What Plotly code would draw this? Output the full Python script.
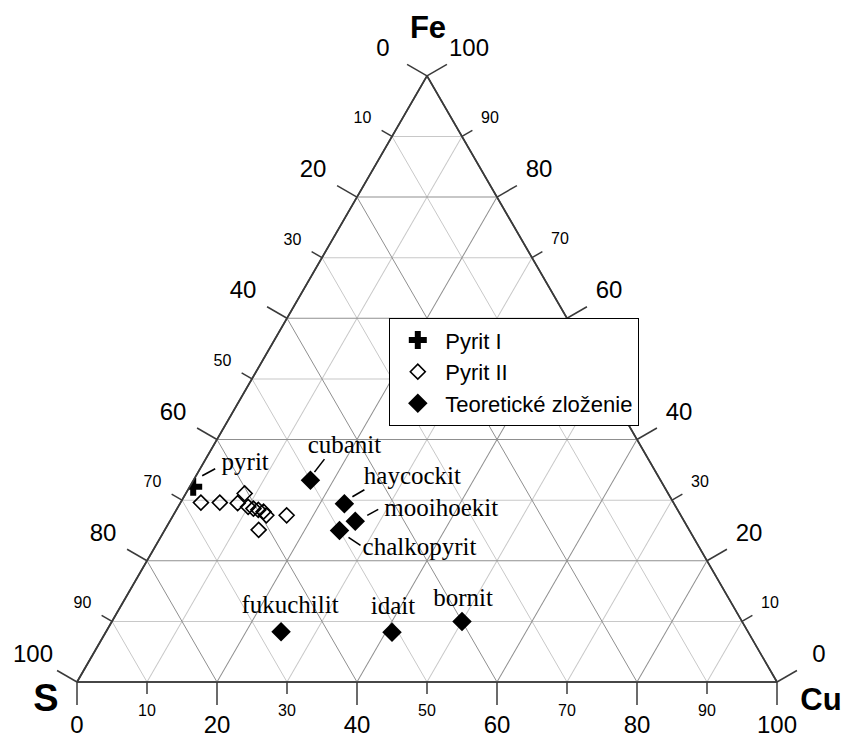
import math
import plotly.graph_objects as go

# ---------------- data (atomic %) ----------------
pyrit1_fe = [32.2]
pyrit1_cu = [0.5]
pyrit1_s = [67.3]

pyrit2_fe = [29.6, 29.6, 29.5, 31.1, 28.9, 28.6, 28.4, 28.1, 27.5, 27.5, 25.1]
pyrit2_cu = [2.9, 5.6, 8.2, 8.4, 10.0, 10.9, 11.7, 12.6, 13.3, 16.2, 13.4]
pyrit2_s = [67.5, 64.8, 62.3, 60.5, 61.1, 60.5, 59.9, 59.3, 59.2, 56.3, 61.5]

minerals = ["cubanit", "haycockit", "mooihoekit", "chalkopyrit",
            "fukuchilit", "idait", "bornit"]
theo_fe = [33.3, 29.4, 26.5, 25.0, 8.3, 8.2, 10.0]
theo_cu = [16.7, 23.5, 26.5, 25.0, 25.0, 40.9, 50.0]
theo_s = [50.0, 47.1, 47.0, 50.0, 66.7, 50.9, 40.0]

minor_ticks = [10, 30, 50, 70, 90]
major_ticks = [0, 20, 40, 60, 80, 100]
vertex_names = ["Fe", "S", "Cu"]

# ---------------- layout geometry ----------------
FIG_W, FIG_H = 847, 730
TRI_LEFT, TRI_RIGHT, TRI_BASE = 69, 769, 674
SIDE = TRI_RIGHT - TRI_LEFT
PX = SIDE / 100.0            # pixels per composition unit
SQ3 = math.sqrt(3)
dom_x = [TRI_LEFT / FIG_W, TRI_RIGHT / FIG_W]
dom_y = [(FIG_H - TRI_BASE) / FIG_H, (FIG_H - TRI_BASE + SIDE * SQ3 / 2) / FIG_H]

LINE_C = "#3a3a3a"

# label placement: pixel offsets (dx right, dy up) of label centre from its point
label_off = {
    "pyrit": (52, 23),
    "cubanit": (34, 33),
    "haycockit": (68, 26),
    "mooihoekit": (86, 12),
    "chalkopyrit": (80, -18),
    "fukuchilit": (9, 25),
    "idait": (1, 25),
    "bornit": (1, 22),
}
# leader lines: (start dx, start dy, end dx, end dy) in pixels from the point
leader_off = {
    "pyrit": (9, 11, 22, 18),
    "cubanit": (4, 8, 14, 21),
    "haycockit": (8, 7, 20, 14),
    "mooihoekit": (12, 6, 23, 12),
    "chalkopyrit": (9, -7, 21, -15),
}


def shift(fe, cu, dx, dy):
    """move a composition by a pixel offset (dx right, dy up)"""
    dfe = dy / (SIDE * SQ3 / 2) * 100
    dcu = dx / SIDE * 100 - dfe / 2
    fe2, cu2 = fe + dfe, cu + dcu
    return fe2, cu2, 100 - fe2 - cu2


def to_xy(fe, cu, dx=0.0, dy=0.0):
    """composition -> overlay cartesian coords (side = 100), plus pixel offset"""
    return cu + fe / 2 + dx / PX, fe * SQ3 / 2 + dy / PX


fig = go.Figure()

# ---------------- axis ticks & tick labels (perpendicular to the edges) ----------------
edges = [
    (lambda v: (100 - v, 0.0), (-SQ3 / 2, 0.5), (-44, 26), (-29.5, 17)),   # left: S
    (lambda v: (0.0, v), (0.0, -1.0), (0, -45), (0, -30)),                 # bottom: Cu
    (lambda v: (v, 100 - v), (SQ3 / 2, 0.5), (42, 26), (28, 17.5)),        # right: Fe
]
MAJ_LEN, MIN_LEN = 23, 12

tk_x, tk_y = [], []
tl_x, tl_y, tl_txt, tl_size = [], [], [], []
for comp, (ux, uy), maj_off, min_off in edges:
    for ticks, ln, off, fsize in ((major_ticks, MAJ_LEN, maj_off, 24),
                                  (minor_ticks, MIN_LEN, min_off, 16)):
        for v in ticks:
            fe0, cu0 = comp(v)
            x0, y0 = to_xy(fe0, cu0)
            x1, y1 = to_xy(fe0, cu0, ux * ln, uy * ln)
            tk_x += [x0, x1, None]
            tk_y += [y0, y1, None]
            xl, yl = to_xy(fe0, cu0, off[0], off[1])
            tl_x.append(xl); tl_y.append(yl)
            tl_txt.append(str(v)); tl_size.append(fsize)

fig.add_trace(go.Scatter(
    x=tk_x, y=tk_y, mode="lines", line=dict(color=LINE_C, width=1.5),
    showlegend=False, hoverinfo="skip", cliponaxis=False))
fig.add_trace(go.Scatter(
    x=tl_x, y=tl_y, mode="text", text=tl_txt, textposition="middle center",
    textfont=dict(family="Liberation Sans", size=tl_size, color="black"),
    showlegend=False, hoverinfo="skip", cliponaxis=False))

# vertex titles
vt = [to_xy(100, 0, 1, 46), to_xy(0, 0, -31, -19), to_xy(0, 100, 44, -20)]
fig.add_trace(go.Scatter(
    x=[p[0] for p in vt], y=[p[1] for p in vt],
    mode="text", text=["<b>%s</b>" % n for n in vertex_names],
    textposition="middle center",
    textfont=dict(family="Liberation Sans", size=[31, 38, 31], color="black"),
    showlegend=False, hoverinfo="skip", cliponaxis=False))

# minor grid subplot needs a (dummy, empty) trace to be drawn
fig.add_trace(go.Scatterternary(a=[], b=[], c=[], mode="markers",
                                showlegend=False, hoverinfo="skip", subplot="ternary"))

# ---------------- points ----------------
fig.add_trace(go.Scatterternary(
    a=theo_fe, b=theo_s, c=theo_cu, mode="markers", name="Teoretické zloženie",
    marker=dict(symbol="diamond", size=15, color="black"),
    subplot="ternary2", legendrank=3))
fig.add_trace(go.Scatterternary(
    a=pyrit2_fe, b=pyrit2_s, c=pyrit2_cu, mode="markers", name="Pyrit II",
    marker=dict(symbol="diamond-open", size=11.5, color="black", line=dict(width=1.6)),
    subplot="ternary2", legendrank=2))
fig.add_trace(go.Scatterternary(
    a=pyrit1_fe, b=pyrit1_s, c=pyrit1_cu, mode="markers", name="Pyrit I",
    marker=dict(symbol="cross", size=15, color="black"),
    subplot="ternary2", legendrank=1))

# ---------------- labels and leader lines ----------------
anchors = {"pyrit": (pyrit1_fe[0], pyrit1_cu[0])}
for n, f, c in zip(minerals, theo_fe, theo_cu):
    anchors[n] = (f, c)

lab_a, lab_b, lab_c, lab_t = [], [], [], []
for name, (dx, dy) in label_off.items():
    f0, c0 = anchors[name]
    f, c, s = shift(f0, c0, dx, dy)
    lab_a.append(f); lab_b.append(s); lab_c.append(c); lab_t.append(name)

fig.add_trace(go.Scatterternary(
    a=lab_a, b=lab_b, c=lab_c, mode="text", text=lab_t, textposition="middle center",
    textfont=dict(family="Liberation Serif", size=25, color="black"),
    showlegend=False, hoverinfo="skip", subplot="ternary2"))

for name, (sx, sy, ex, ey) in leader_off.items():
    f0, c0 = anchors[name]
    p1 = shift(f0, c0, sx, sy)
    p2 = shift(f0, c0, ex, ey)
    fig.add_trace(go.Scatterternary(
        a=[p1[0], p2[0]], b=[p1[2], p2[2]], c=[p1[1], p2[1]], mode="lines",
        line=dict(color="black", width=1.6), showlegend=False, hoverinfo="skip",
        subplot="ternary2"))


def axis(ticks, gridcolor):
    return dict(
        tickmode="array", tickvals=ticks, showticklabels=False, ticks="",
        showgrid=True, gridcolor=gridcolor, gridwidth=1.2,
        showline=True, linecolor=LINE_C, linewidth=1.6,
        title=dict(text=""), min=0,
    )


fig.update_layout(
    width=FIG_W, height=FIG_H,
    margin=dict(l=0, r=0, t=0, b=0),
    paper_bgcolor="white", plot_bgcolor="white",
    xaxis=dict(visible=False, domain=[0, 1],
               range=[-TRI_LEFT / PX, (FIG_W - TRI_LEFT) / PX], fixedrange=True),
    yaxis=dict(visible=False, domain=[0, 1],
               range=[-(FIG_H - TRI_BASE) / PX, TRI_BASE / PX], fixedrange=True),
    ternary=dict(
        sum=100, domain=dict(x=dom_x, y=dom_y), bgcolor="white",
        aaxis=axis(minor_ticks, "#c8c8c8"),
        baxis=axis(minor_ticks, "#c8c8c8"),
        caxis=axis(minor_ticks, "#c8c8c8"),
    ),
    ternary2=dict(
        sum=100, domain=dict(x=dom_x, y=dom_y), bgcolor="rgba(0,0,0,0)",
        aaxis=axis(major_ticks, "#8f8f8f"),
        baxis=axis(major_ticks, "#8f8f8f"),
        caxis=axis(major_ticks, "#8f8f8f"),
    ),
    legend=dict(
        x=(389 - 8) / FIG_W, y=1 - (318 - 8) / FIG_H, xanchor="left", yanchor="top",
        bgcolor="white", bordercolor="black", borderwidth=1.3,
        font=dict(family="Liberation Sans", size=22, color="black"),
        itemwidth=45, tracegroupgap=0,
    ),
    showlegend=True,
)

fig.write_html("out.html")
